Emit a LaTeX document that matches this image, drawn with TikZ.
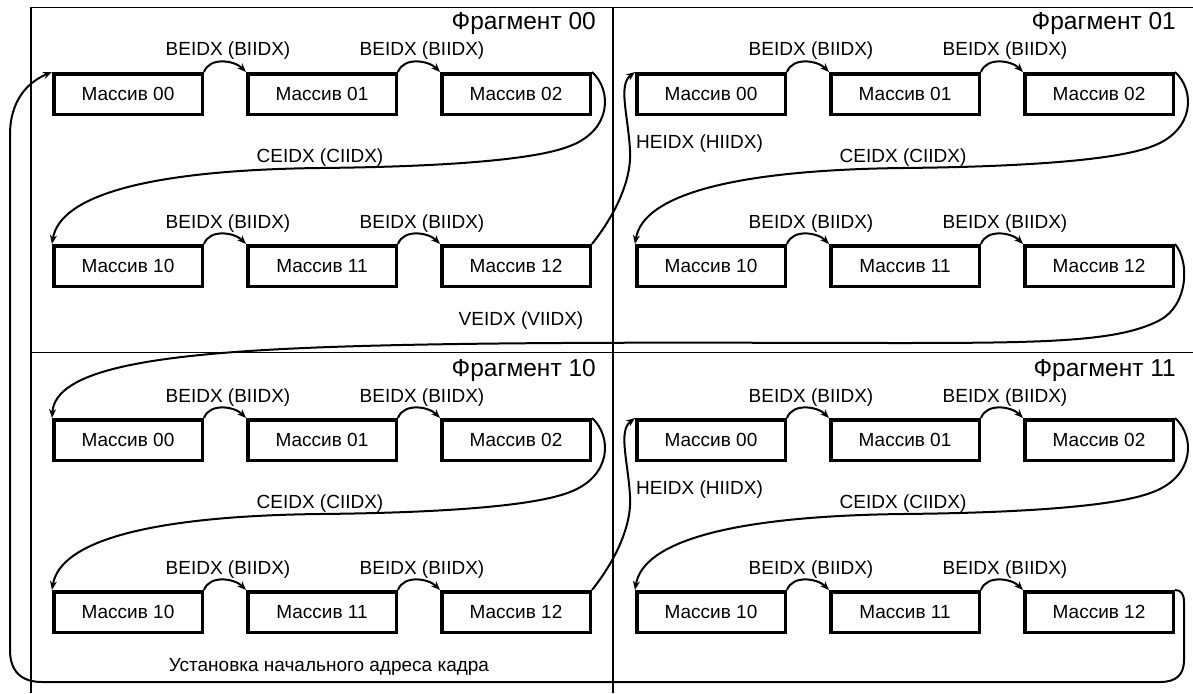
\documentclass[tikz,border=0pt]{standalone}
\usepackage{fontspec}
\setmainfont{Liberation Sans}
\usetikzlibrary{arrows.meta}
\tikzset{
  massbox/.style={draw, line width=3.5pt, minimum width=148.5pt, minimum height=40.5pt, inner sep=0pt, font=\fontsize{19}{21}\selectfont},
  lbl/.style={font=\fontsize{19}{21}\selectfont, inner sep=0pt},
  fraglbl/.style={font=\fontsize{24.5}{26}\selectfont, inner sep=0pt, anchor=base east},
  frameline/.style={line width=1.4pt},
  conn/.style={line width=2pt, -{Stealth[length=9pt,width=7pt]}},
}
\begin{document}
\begin{tikzpicture}[x=1pt,y=-1pt]
\useasboundingbox (0,0) rectangle (1193,693);
% frame
\draw[frameline] (31,693) -- (31,7.5) -- (1193,7.5);
\draw[frameline] (613,7.5) -- (613,693);
\draw[frameline] (31,352.5) -- (1193,352.5);
% fragments
\foreach \fr/\dx/\dy/\fx in {00/0/0/596, 01/583/0/593, 10/0/346/596, 11/583/346/593} {
  \begin{scope}[shift={(\dx,\dy)}]
    \node[massbox] (f\fr-00) at (128,94) {Массив 00};
    \node[massbox] (f\fr-01) at (322,94) {Массив 01};
    \node[massbox] (f\fr-02) at (516,94) {Массив 02};
    \node[massbox] (f\fr-10) at (128,266) {Массив 10};
    \node[massbox] (f\fr-11) at (322,266) {Массив 11};
    \node[massbox] (f\fr-12) at (516,266) {Массив 12};
    \node[fraglbl] (t\fr) at (\fx,30) {Фрагмент \fr};
    \node[lbl, anchor=base] (b\fr-a) at (228,56) {BEIDX (BIIDX)};
    \node[lbl, anchor=base] (b\fr-b) at (422,56) {BEIDX (BIIDX)};
    \node[lbl, anchor=base] (b\fr-c) at (228,228) {BEIDX (BIIDX)};
    \node[lbl, anchor=base] (b\fr-d) at (422,228) {BEIDX (BIIDX)};
    \node[lbl, anchor=base] (c\fr) at (320,162) {CEIDX (CIIDX)};
    \draw[conn] (f\fr-00.north east) .. controls +(5.6,-15.4) and +(-11.6,-11.6) .. (f\fr-01.north west);
    \draw[conn] (f\fr-01.north east) .. controls +(5.6,-15.4) and +(-11.6,-11.6) .. (f\fr-02.north west);
    \draw[conn] (f\fr-10.north east) .. controls +(5.6,-15.4) and +(-11.6,-11.6) .. (f\fr-11.north west);
    \draw[conn] (f\fr-11.north east) .. controls +(5.6,-15.4) and +(-11.6,-11.6) .. (f\fr-12.north west);
    \draw[conn] (f\fr-02.north east) .. controls (612,90) and (612,130) .. (570,146)
       .. controls (530,162) and (420,167) .. (320,168)
       .. controls (150,170) and (60,195) .. (f\fr-10.north west);
  \end{scope}
}
% horizontal transitions
\foreach \a/\b/\oy in {00/01/0, 10/11/346} {
  \begin{scope}[shift={(0,\oy)}]
    \draw[conn] (f\a-12.north east) .. controls (615,215) and (632,180) .. (630,150)
       .. controls (628,115) and (618,85) .. (f\b-00.north west);
  \end{scope}
}
\node[lbl, anchor=base west] (h1) at (636,148) {HEIDX (HIIDX)};
\node[lbl, anchor=base west] (h2) at (636,494) {HEIDX (HIIDX)};
% vertical transition
\draw[conn] (f01-12.north east) .. controls (1190,262) and (1188,305) .. (1160,320)
   .. controls (1120,341.4) and (1050,343) .. (900,343)
   .. controls (750,343) and (500,341) .. (330,347)
   .. controls (150,353.4) and (55,370) .. (f10-00.north west);
\node[lbl, anchor=base] (v) at (521,325) {VEIDX (VIIDX)};
% frame restart
\draw[conn] (f11-12.north east) .. controls (1181,590) and (1184,594) .. (1184,602) -- (1184,660)
   .. controls (1184,675) and (1176,682) .. (1160,682) -- (42,682)
   .. controls (22,682) and (10,672) .. (10,650) -- (10,135)
   .. controls (10,100) and (28,82) .. (f00-00.north west);
\node[lbl, anchor=base] (u) at (329,671) {Установка начального адреса кадра};
\end{tikzpicture}
\end{document}
